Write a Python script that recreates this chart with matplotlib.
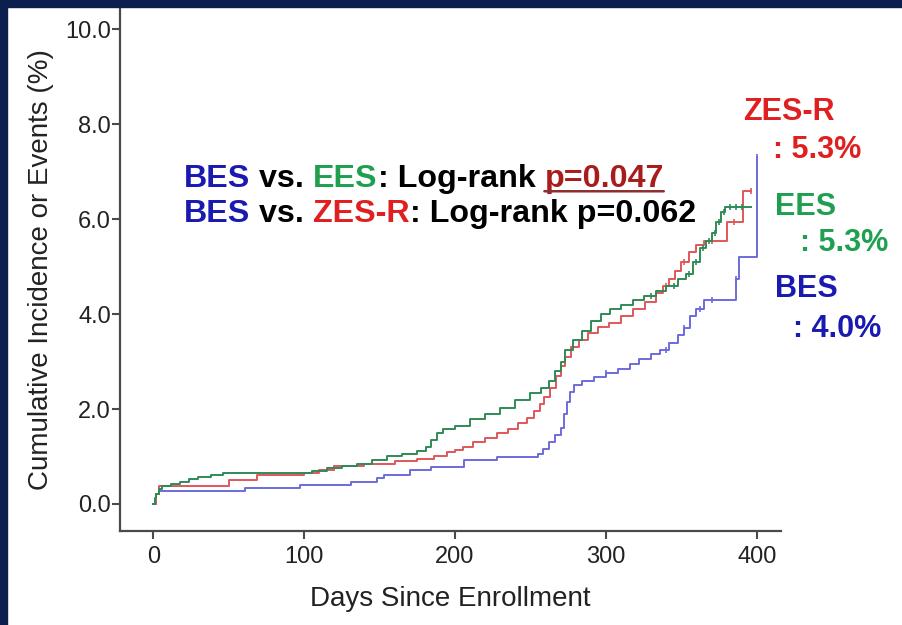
import matplotlib.pyplot as plt
from matplotlib.patches import Rectangle
import numpy as np

plt.rcParams['font.family'] = ['Liberation Sans', 'DejaVu Sans']

# cumulative incidence (%) step points
ees_days = [0, 1, 2, 4, 6, 12, 18, 24, 30, 38, 46, 105, 115, 125, 135, 145, 155, 165, 175, 181, 184,
            188, 192, 200, 210, 220, 230, 240, 250, 257, 262, 266, 270, 273, 278, 284, 290, 297, 303,
            310, 318, 325, 333, 340, 348, 353, 358, 362, 366, 370, 373, 376, 379, 396]
ees_vals = [0.0, 0.12, 0.22, 0.32, 0.38, 0.42, 0.47, 0.52, 0.56, 0.6, 0.65, 0.7, 0.75, 0.8, 0.85, 0.92,
            1.0, 1.06, 1.12, 1.2, 1.35, 1.5, 1.58, 1.65, 1.78, 1.9, 2.03, 2.18, 2.33, 2.45, 2.6, 2.8,
            3.0, 3.25, 3.45, 3.65, 3.85, 4.0, 4.1, 4.2, 4.3, 4.38, 4.48, 4.6, 4.75, 4.85, 5.1, 5.4,
            5.55, 5.7, 5.95, 6.15, 6.25, 6.25]

zes_days = [0, 2, 4, 50, 69, 100, 110, 120, 140, 160, 175, 186, 195, 200, 205, 212, 220, 228, 235, 242,
            248, 252, 256, 259, 263, 267, 270, 273, 277, 282, 288, 295, 302, 310, 318, 326, 333, 338,
            342, 346, 350, 355, 360, 365, 380, 391, 396]
zes_vals = [0.0, 0.2, 0.38, 0.5, 0.62, 0.66, 0.72, 0.8, 0.85, 0.9, 0.95, 1.0, 1.1, 1.13, 1.2, 1.3, 1.4,
            1.5, 1.58, 1.7, 1.82, 1.95, 2.1, 2.25, 2.45, 2.7, 2.9, 3.1, 3.3, 3.45, 3.6, 3.72, 3.82,
            3.95, 4.1, 4.25, 4.45, 4.6, 4.75, 4.9, 5.1, 5.3, 5.45, 5.55, 5.95, 6.6, 6.6]

bes_days = [0, 2, 4, 61, 97, 131, 148, 153, 170, 184, 206, 228, 255, 258, 262, 266, 270, 272, 274, 276,
            279, 284, 292, 300, 308, 316, 322, 330, 336, 342, 348, 352, 356, 360, 365, 386, 388, 400]
bes_vals = [0.0, 0.2, 0.28, 0.34, 0.4, 0.46, 0.55, 0.61, 0.71, 0.78, 0.92, 0.99, 1.05, 1.15, 1.3, 1.45,
            1.6, 1.9, 2.15, 2.35, 2.5, 2.6, 2.68, 2.75, 2.85, 2.95, 3.05, 3.15, 3.25, 3.4, 3.55, 3.7,
            3.95, 4.1, 4.3, 4.75, 5.2, 7.3]

# censored observations (days)
ees_cens = [330, 345, 355, 360, 364, 368, 372, 375, 378, 382, 386, 390]
zes_cens = [340, 352, 370, 385, 396]
bes_cens = [300, 340, 352, 362, 370, 386, 400]

groups = ['ZES-R', 'EES', 'BES']
final_rates = ['5.3%', '5.3%', '4.0%']

c_green = '#2e8b57'
c_red = '#e0575a'
c_blue = '#6b6bde'

fig = plt.figure(figsize=(9.03, 6.25), dpi=100)
ax = fig.add_axes([0.1329, 0.1504, 0.732, 0.8368])


def step_at(days, vals, t):
    i = np.searchsorted(days, t, side='right') - 1
    return vals[max(i, 0)]


for d, v, cens, col in [(bes_days, bes_vals, bes_cens, c_blue),
                        (zes_days, zes_vals, zes_cens, c_red),
                        (ees_days, ees_vals, ees_cens, c_green)]:
    ax.step(d, v, where='post', color=col, lw=1.4)
    cy = [step_at(d, v, t) for t in cens]
    ax.plot(cens, cy, ls='none', marker='|', ms=5, mew=1.2, color=col)

ax.set_xlim(-22, 416)
ax.set_ylim(-0.57, 10.45)
ax.set_xticks([0, 100, 200, 300, 400])
ax.set_yticks([0, 2, 4, 6, 8, 10])
ax.set_yticklabels(['%.1f' % t for t in [0, 2, 4, 6, 8, 10]])
for s in ['top', 'right']:
    ax.spines[s].set_visible(False)
for s in ['left', 'bottom']:
    ax.spines[s].set_color('#4a4a4a')
    ax.spines[s].set_linewidth(1.6)
ax.tick_params(axis='both', length=5.5, width=1.5, color='#4a4a4a', labelsize=17, labelcolor='#222222')
ax.tick_params(axis='y', pad=1)
ax.tick_params(axis='x', pad=5)
ax.set_xlabel('Days Since Enrollment', fontsize=20, color='#222222', labelpad=13)
ax.set_ylabel('Cumulative Incidence or Events (%)', fontsize=20, color='#222222', labelpad=8)

# log-rank header, drawn piece by piece
fs = 23.2
t = ax.text(0.097, 0.645, 'BES', transform=ax.transAxes, fontsize=fs, weight='bold', color='#1a1ab0', va='bottom')
t = ax.annotate(' vs. ', xy=(1, 0), xycoords=t, fontsize=fs, weight='bold', color='black', va='bottom')
t = ax.annotate('EES', xy=(1, 0), xycoords=t, fontsize=fs, weight='bold', color='#1fa050', va='bottom')
t = ax.annotate(': Log-rank', xy=(1, 0), xycoords=t, fontsize=fs, weight='bold', color='black', va='bottom')
p = ax.annotate('p=0.047', xy=(1, 0), xycoords=t, xytext=(6.4, 0), textcoords='offset points',
                fontsize=fs, weight='bold', color='#a81c1c', va='bottom')
ax.annotate('', xy=(0, 0.08), xycoords=p, xytext=(1, 0.08), textcoords=p,
            arrowprops=dict(arrowstyle='-', color='#8a3030', lw=1.8, shrinkA=0, shrinkB=0))

t = ax.text(0.097, 0.578, 'BES', transform=ax.transAxes, fontsize=fs, weight='bold', color='#1a1ab0', va='bottom')
t = ax.annotate(' vs. ', xy=(1, 0), xycoords=t, fontsize=fs, weight='bold', color='black', va='bottom')
t = ax.annotate('ZES-R', xy=(1, 0), xycoords=t, fontsize=fs, weight='bold', color='#e02020', va='bottom')
t = ax.annotate(': Log-rank p=0.062', xy=(1, 0), xycoords=t, fontsize=fs, weight='bold', color='black', va='bottom')

# end-of-curve labels
fl = 22
lab_cols = ['#e02020', '#1fa050', '#1a1ab0']
lab_pos = [(743, 112, 773, 150), (775, 207, 800, 243), (775, 289, 793, 329)]
for g, r, col, (x1, y1, x2, y2) in zip(groups, final_rates, lab_cols, lab_pos):
    fig.text(x1 / 903, 1 - y1 / 625, g, fontsize=fl, weight='bold', color=col, va='center', ha='left')
    fig.text(x2 / 903, 1 - y2 / 625, ': ' + r, fontsize=fl, weight='bold', color=col, va='center', ha='left')

# navy frame on the slide
navy = '#0c1f4f'
fig.patches.append(Rectangle((0, 0), 7 / 903, 1, transform=fig.transFigure, color=navy, zorder=10))
fig.patches.append(Rectangle((0, 1 - 7 / 625), 1, 7 / 625, transform=fig.transFigure, color=navy, zorder=10))

fig.savefig('out.png', dpi=100)
